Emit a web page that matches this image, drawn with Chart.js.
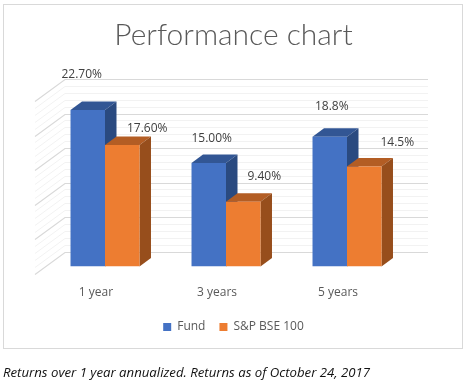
<!DOCTYPE html>
<html>
<head>
<meta charset="utf-8">
<script src="https://cdn.jsdelivr.net/npm/chart.js@4/dist/chart.umd.min.js"></script>
<style>
  html, body { margin: 0; padding: 0; background: #fff; }
  #wrap { position: relative; width: 467px; height: 389px; overflow: hidden; }
  #frame { position: absolute; left: 3px; top: 4px; width: 460px; height: 345px; border: 1px solid #d9d9d9; box-sizing: border-box; }
  canvas { position: absolute; left: 0; top: 0; }
  #note { position: absolute; left: 3px; top: 363px; font: italic 13.2px "Open Sans", sans-serif; color: #111; white-space: nowrap; }
</style>
</head>
<body>
<div id="wrap">
  <div id="frame"></div>
  <canvas id="chart" width="467" height="389"></canvas>
  <div id="note">Returns over 1 year annualized. Returns as of October 24, 2017</div>
</div>
<script>
const categories = ['1 year', '3 years', '5 years'];
const fundValues = [22.7, 15.0, 18.8];
const indexValues = [17.6, 9.4, 14.5];
const fundLabels = ['22.70%', '15.00%', '18.8%'];
const indexLabels = ['17.60%', '9.40%', '14.5%'];

// label placement relative to bar top centre, Excel put these by hand
const fundLabelOffsets = [[-6, -35], [3, -24], [2, -30]];
const indexLabelOffsets = [[25, -17], [21, -25], [33, -24]];

// 3D look
const barDepth = [11.5, 8.5];
const wallDepth = [20.5, 15];
const floorDepth = [9.5, 7];
const faces = [
  { top: '#325694', side: '#2a4a80' },
  { top: '#b35d24', side: '#974e1c' }
];

function poly(ctx, pts, color) {
  ctx.fillStyle = color;
  ctx.beginPath();
  pts.forEach((p, i) => (i ? ctx.lineTo(p[0], p[1]) : ctx.moveTo(p[0], p[1])));
  ctx.closePath();
  ctx.fill();
}

const box3d = {
  id: 'box3d',
  beforeDatasetsDraw(chart) {
    const { ctx, scales } = chart;
    const x = scales.x, y = scales.y;
    ctx.save();

    // back wall and left wall grid
    y.ticks.forEach((t) => {
      const py = y.getPixelForValue(t.value);
      const major = t.value % 5 === 0;
      ctx.strokeStyle = major ? '#d9d9d9' : '#f2f2f2';
      ctx.lineWidth = major ? 1.2 : 1;
      const bx = x.left + wallDepth[0], by = Math.round(py - wallDepth[1]) + 0.5;
      ctx.beginPath();
      ctx.moveTo(x.left - floorDepth[0], by + wallDepth[1] + floorDepth[1]);
      ctx.lineTo(bx, by);
      ctx.lineTo(x.right + wallDepth[0], by);
      ctx.stroke();
    });

    // top and side faces, dataset order so orange sits over the blue side
    chart.data.datasets.forEach((ds, d) => {
      chart.getDatasetMeta(d).data.forEach((bar) => {
        const p = bar.getProps(['x', 'y', 'base', 'width'], true);
        const l = p.x - p.width / 2, r = p.x + p.width / 2;
        const dx = barDepth[0], dy = barDepth[1];
        poly(ctx, [[l, p.y], [r, p.y], [r + dx, p.y - dy], [l + dx, p.y - dy]], faces[d].top);
        poly(ctx, [[r, p.y], [r + dx, p.y - dy], [r + dx, p.base - dy], [r, p.base]], faces[d].side);
      });
    });
    ctx.restore();
  },
  afterDatasetsDraw(chart) {
    const { ctx } = chart;
    ctx.save();
    ctx.font = '12px "Open Sans", sans-serif';
    ctx.fillStyle = '#404040';
    ctx.textAlign = 'center';
    ctx.textBaseline = 'middle';
    [[fundLabels, fundLabelOffsets], [indexLabels, indexLabelOffsets]].forEach(([labels, offsets], d) => {
      chart.getDatasetMeta(d).data.forEach((bar, i) => {
        const p = bar.getProps(['x', 'y'], true);
        ctx.fillText(labels[i], p.x + offsets[i][0], p.y + offsets[i][1]);
      });
    });
    ctx.restore();
  }
};

// hidden side axes hold the plot margins so title and legend stay centred on the page
function hiddenAxis(position, width) {
  return {
    position: position,
    min: 0,
    max: 25,
    grid: { display: false },
    border: { display: false },
    ticks: { display: false, stepSize: 1, autoSkip: false },
    afterFit(scale) { scale.width = width; }
  };
}

new Chart(document.getElementById('chart'), {
  type: 'bar',
  data: {
    labels: categories,
    datasets: [
      { label: 'Fund', data: fundValues, backgroundColor: '#4472c4' },
      { label: 'S&P BSE 100', data: indexValues, backgroundColor: '#ed7d31' }
    ]
  },
  options: {
    responsive: false,
    animation: false,
    categoryPercentage: 0.57,
    barPercentage: 1,
    layout: { padding: { left: 0, right: 0, top: 0, bottom: 46 } },
    scales: {
      x: {
        grid: { display: false },
        border: { display: false },
        ticks: { color: '#595959', font: { family: '"Open Sans", sans-serif', size: 12 }, padding: 11, labelOffset: -9 },
        afterFit(scale) { scale.height -= 4; }
      },
      y: hiddenAxis('left', 44.5),
      yRight: hiddenAxis('right', 59.5)
    },
    plugins: {
      title: {
        display: true,
        text: 'Performance chart',
        color: '#595959',
        font: { family: 'Lato, sans-serif', size: 30, weight: '300' },
        padding: { top: 17, bottom: 41 }
      },
      legend: {
        position: 'bottom',
        labels: {
          color: '#595959',
          boxWidth: 8,
          boxHeight: 8,
          padding: 14,
          font: { family: '"Open Sans", sans-serif', size: 12 }
        }
      },
      tooltip: { enabled: false }
    }
  },
  plugins: [box3d]
});
</script>
</body>
</html>
